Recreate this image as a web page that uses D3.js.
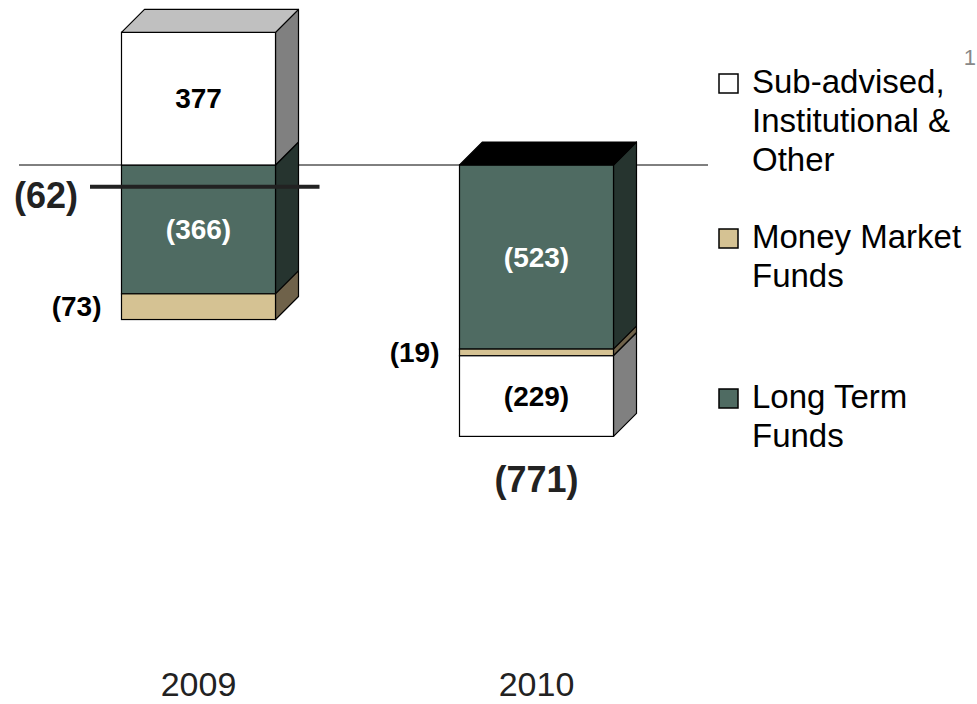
<!DOCTYPE html>
<html>
<head>
  <meta charset="utf-8">
  <title>Net flows 2009 / 2010</title>
  <script src="https://d3js.org/d3.v7.min.js"></script>
  <style>
    body { margin: 0; background: #fff; }
    svg { display: block; font-family: "Liberation Sans", Arial, sans-serif; }
  </style>
</head>
<body>
  <svg id='chart' width='977' height='704'></svg>
  <script>
    var years = ['2009', '2010'];
    var seriesKeys = ['longTerm', 'moneyMarket', 'subAdvised'];
    var longTerm = [-366, -523];
    var moneyMarket = [-73, -19];
    var subAdvised = [377, -229];
    var netFlows = [-62, -771];

    var legendItems = [
      { key: 'subAdvised', lines: ['Sub-advised,', 'Institutional &', 'Other'] },
      { key: 'moneyMarket', lines: ['Money Market', 'Funds'] },
      { key: 'longTerm', lines: ['Long Term', 'Funds'] }
    ];

    // front / side / top colours for the fake 3d boxes
    var colors = {
      longTerm: { front: '#4f6b62', side: '#26342f', top: '#000000', text: '#ffffff' },
      moneyMarket: { front: '#d5c293', side: '#6f624a', top: '#a8976e', text: '#000000' },
      subAdvised: { front: '#ffffff', side: '#808080', top: '#c0c0c0', text: '#000000' }
    };

    var table = years.map(function(year, i) {
      return { year: year, longTerm: longTerm[i], moneyMarket: moneyMarket[i], subAdvised: subAdvised[i], net: netFlows[i] };
    });

    var svg = d3.select('#chart');

    var x = d3.scalePoint().domain(years).range([198.5, 536.5]),
        y = d3.scaleLinear().domain([-771, 377]).range([436.4, 32.3]),
        barW = 154,
        depth = 23;

    var stacked = d3.stack()
        .keys(seriesKeys)
        .offset(d3.stackOffsetDiverging)(table);

    function fmt(v) {
      return v < 0 ? '(' + Math.abs(v) + ')' : String(v);
    }

    // zero line sits behind the bars
    svg.append('line')
        .attr('x1', 19).attr('x2', 708)
        .attr('y1', y(0)).attr('y2', y(0))
        .attr('stroke', '#000')
        .attr('stroke-width', 1);

    // flatten segments so each bar can be drawn
    var segments = [];
    stacked.forEach(function(s) {
      s.forEach(function(d) {
        if (d[0] === d[1]) return;
        segments.push({ key: s.key, year: d.data.year, lo: Math.min(d[0], d[1]), hi: Math.max(d[0], d[1]), value: d.data[s.key] });
      });
    });

    years.forEach(function(year) {
      var segs = segments.filter(function(d) { return d.year === year; });
      var x0 = x(year) - barW / 2,
          x1 = x(year) + barW / 2;
      var g = svg.append('g').attr('class', 'bar');

      segs.forEach(function(d) {
        var yt = y(d.hi), yb = y(d.lo);
        g.append('path')
            .attr('d', 'M' + x1 + ',' + yt + 'L' + (x1 + depth) + ',' + (yt - depth) +
              'L' + (x1 + depth) + ',' + (yb - depth) + 'L' + x1 + ',' + yb + 'Z')
            .attr('fill', colors[d.key].side)
            .attr('stroke', '#000')
            .attr('stroke-width', 1.2)
            .attr('stroke-linejoin', 'round');
        g.append('rect')
            .attr('x', x0)
            .attr('y', yt)
            .attr('width', barW)
            .attr('height', yb - yt)
            .attr('fill', colors[d.key].front)
            .attr('stroke', '#000')
            .attr('stroke-width', 1.2);
      });

      // top face of the highest segment
      var topSeg = segs.reduce(function(a, b) { return b.hi > a.hi ? b : a; });
      var yt = y(topSeg.hi);
      g.append('path')
          .attr('d', 'M' + x0 + ',' + yt + 'L' + (x0 + depth) + ',' + (yt - depth) +
            'L' + (x1 + depth) + ',' + (yt - depth) + 'L' + x1 + ',' + yt + 'Z')
          .attr('fill', colors[topSeg.key].top)
          .attr('stroke', '#000')
          .attr('stroke-width', 1.2)
          .attr('stroke-linejoin', 'round');

      // segment labels
      segs.forEach(function(d) {
        var thin = (y(d.lo) - y(d.hi)) < 40;
        svg.append('text')
            .attr('x', thin ? x0 - 20 : x(year))
            .attr('y', (y(d.lo) + y(d.hi)) / 2)
            .attr('dy', '0.35em')
            .attr('text-anchor', thin ? 'end' : 'middle')
            .attr('font-size', 28)
            .attr('font-weight', 'bold')
            .attr('fill', thin ? '#000' : colors[d.key].text)
            .text(fmt(d.value));
      });
    });

    // net flow markers
    table.forEach(function(d) {
      var segs = segments.filter(function(s) { return s.year === d.year; });
      var bottom = d3.min(segs, function(s) { return s.lo; });
      if (d.net > bottom) {
        svg.append('line')
            .attr('x1', 90).attr('x2', x(d.year) + barW / 2 + 44)
            .attr('y1', y(d.net)).attr('y2', y(d.net))
            .attr('stroke', '#222')
            .attr('stroke-width', 4);
        svg.append('text')
            .attr('x', 78)
            .attr('y', y(d.net) + 9)
            .attr('dy', '0.35em')
            .attr('text-anchor', 'end')
            .attr('font-size', 36)
            .attr('font-weight', 'bold')
            .attr('fill', '#222')
            .text(fmt(d.net));
      } else {
        svg.append('text')
            .attr('x', x(d.year))
            .attr('y', y(bottom) + 56)
            .attr('text-anchor', 'middle')
            .attr('font-size', 36)
            .attr('font-weight', 'bold')
            .attr('fill', '#222')
            .text(fmt(d.net));
      }
    });

    // category labels
    svg.selectAll('.year')
      .data(years)
      .enter().append('text')
        .attr('class', 'year')
        .attr('x', function(d) { return x(d); })
        .attr('y', 696)
        .attr('text-anchor', 'middle')
        .attr('font-size', 34)
        .attr('fill', '#222')
        .text(function(d) { return d; });

    // legend
    var legendTops = [93, 248, 408];
    legendItems.forEach(function(item, i) {
      var base = legendTops[i];
      svg.append('rect')
          .attr('x', 719)
          .attr('y', base - 19)
          .attr('width', 19)
          .attr('height', 19)
          .attr('fill', colors[item.key].front)
          .attr('stroke', '#000')
          .attr('stroke-width', 1.5);
      var t = svg.append('text')
          .attr('x', 752)
          .attr('y', base)
          .attr('font-size', 33)
          .attr('fill', '#000');
      item.lines.forEach(function(line, j) {
        t.append('tspan')
            .attr('x', 752)
            .attr('dy', j === 0 ? 0 : 39)
            .text(line);
      });
    });

    // page number
    svg.append('text')
        .attr('x', 976)
        .attr('y', 65)
        .attr('text-anchor', 'end')
        .attr('font-size', 22)
        .attr('fill', '#888')
        .text('1');
  </script>
</body>
</html>
